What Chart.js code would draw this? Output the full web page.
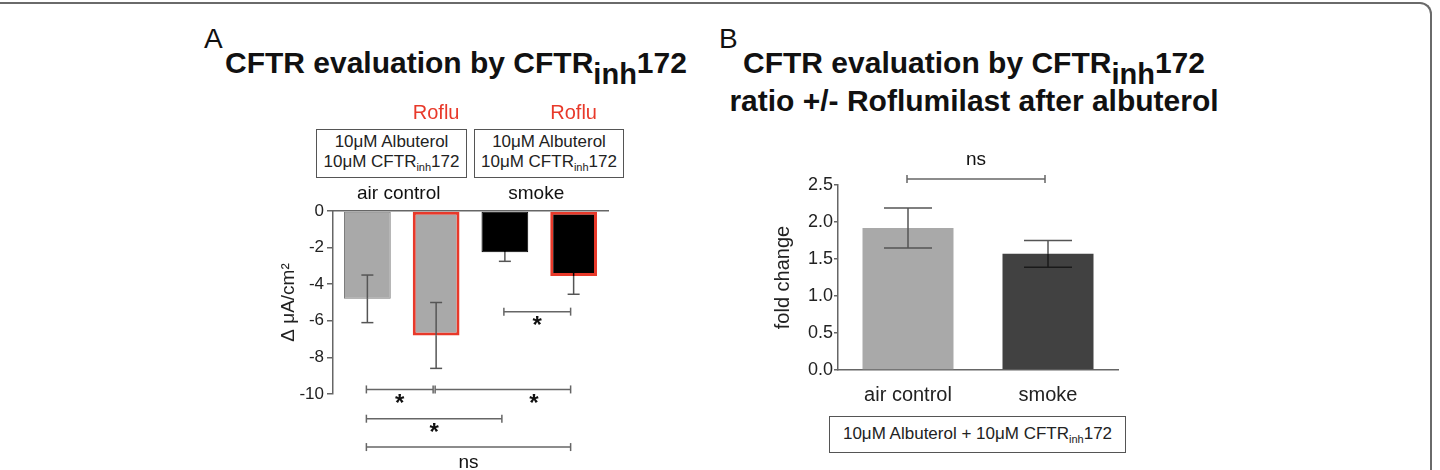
<!DOCTYPE html>
<html>
<head>
<meta charset="utf-8">
<script src="https://cdn.jsdelivr.net/npm/chart.js@4.4.1/dist/chart.umd.min.js"></script>
<style>
body { margin: 0; width: 1440px; height: 470px; overflow: hidden; background: #fff; position: relative;
       font-family: "Liberation Sans", Arial, sans-serif; color: #111; }
.abs { position: absolute; white-space: nowrap; }
.frame { position: absolute; left: -4px; top: 2px; width: 1436px; height: 490px; box-sizing: border-box;
         border-top: 2px solid #6a6a6a; border-right: 2px solid #6a6a6a; border-top-right-radius: 12px; }
.panel { font-size: 28px; line-height: 37px; }
.title { font-size: 30px; line-height: 37px; font-weight: bold; }
.sub { position: relative; top: 11px; font-size: 29px; }
.box { position: absolute; box-sizing: border-box; border: 1.5px solid #555; text-align: center;
       font-size: 17px; line-height: 20px; color: #222; white-space: nowrap; }
.bsub { font-size: 11px; position: relative; top: 4px; }
canvas { position: absolute; }
</style>
</head>
<body>
<div class="frame"></div>

<div class="abs panel" style="left:204px; top:20px;">A</div>
<div class="abs title" style="left:225px; top:44px;">CFTR evaluation by CFTR<span class="sub">inh</span>172</div>
<div class="box" style="left:316px; top:129px; width:151px; height:49px; padding-top:2px;">10μM Albuterol<br>10μM CFTR<span class="bsub">inh</span>172</div>
<div class="box" style="left:474px; top:129px; width:150px; height:49px; padding-top:2px;">10μM Albuterol<br>10μM CFTR<span class="bsub">inh</span>172</div>

<div class="abs panel" style="left:719px; top:20px;">B</div>
<div class="abs title" style="left:724px; top:44px; width:500px; text-align:center;">CFTR evaluation by CFTR<span class="sub">inh</span>172<br>ratio +/- Roflumilast after albuterol</div>
<div class="box" style="left:829px; top:416px; width:297px; height:37px; padding-top:7px;">10μM Albuterol + 10μM CFTR<span class="bsub">inh</span>172</div>

<canvas id="chartA" width="400" height="380" style="left:240px; top:90px;"></canvas>
<canvas id="chartB" width="400" height="280" style="left:740px; top:140px;"></canvas>

<script>
const FONT = '"Liberation Sans", Arial, sans-serif';
Chart.defaults.font.family = FONT;

// panel A: delta current after CFTRinh172
const groupsA = ["air control", "smoke"];
const conditionsA = ["air control", "air control + Roflu", "smoke", "smoke + Roflu"];
const meansA = [-4.8, -6.8, -2.25, -3.55];
const semA = [1.3, 1.8, 0.5, 1.0];
const rofluA = [false, true, false, true];
const compareA = [
    { a: 2, b: 3, label: "*" },
    { a: 0, b: 1, label: "*" },
    { a: 1, b: 3, label: "*" },
    { a: 0, b: 2, label: "*" },
    { a: 0, b: 3, label: "ns" },
];

// panel B: fold change ratio
const categoriesB = ["air control", "smoke"];
const meansB = [1.92, 1.57];
const semB = [0.27, 0.18];
const compareB = [{ a: 0, b: 1, label: "ns" }];

// bracket heights (axis units) and where the label sits along each bracket
const levelsA = [-5.5, -9.75, -9.75, -11.35, -12.9];
const labelAtA = [0.5, 0.5, 0.73, 0.5, 0.5];
const levelsB = [2.58];
const labelAtB = [0.5];

function line(ctx, x1, y1, x2, y2) {
    ctx.beginPath();
    ctx.moveTo(x1, y1);
    ctx.lineTo(x2, y2);
    ctx.stroke();
}

//whiskers: outer half in grey, inner half in a per-bar colour
const errorBars = {
    id: "errorBars",
    afterDatasetsDraw(chart, args, opts) {
        const ctx = chart.ctx;
        const y = chart.scales.y;
        const means = chart.data.datasets[0].data;
        ctx.save();
        ctx.lineWidth = opts.width;
        chart.getDatasetMeta(0).data.forEach((bar, i) => {
            const m = means[i];
            const dir = m < 0 ? -1 : 1;
            const ym = y.getPixelForValue(m);
            const yo = y.getPixelForValue(m + dir * opts.sem[i]);
            const yi = y.getPixelForValue(m - dir * opts.sem[i]);
            ctx.strokeStyle = opts.color;
            line(ctx, bar.x, ym, bar.x, yo);
            line(ctx, bar.x - opts.cap, yo, bar.x + opts.cap, yo);
            ctx.strokeStyle = opts.inner[i];
            line(ctx, bar.x, ym, bar.x, yi);
            line(ctx, bar.x - opts.cap, yi, bar.x + opts.cap, yi);
        });
        ctx.restore();
    },
};

//significance brackets plus group labels
const brackets = {
    id: "brackets",
    afterDatasetsDraw(chart, args, opts) {
        const ctx = chart.ctx;
        const y = chart.scales.y;
        const bars = chart.getDatasetMeta(0).data;
        ctx.save();
        ctx.strokeStyle = "#666";
        ctx.lineWidth = 1.5;
        ctx.fillStyle = "#111";
        ctx.textAlign = "center";
        opts.pairs.forEach((p, i) => {
            const x1 = bars[p.a].x - 1;
            const x2 = bars[p.b].x - 3;
            const yy = y.getPixelForValue(opts.levels[i]);
            line(ctx, x1, yy, x2, yy);
            line(ctx, x1, yy - 4, x1, yy + 4);
            line(ctx, x2, yy - 4, x2, yy + 4);
            const xm = x1 + (x2 - x1) * opts.labelAt[i];
            ctx.textBaseline = "middle";
            if (p.label === "*") {
                ctx.font = "bold 24px " + FONT;
                ctx.fillText("*", xm, yy + opts.starDy);
            } else {
                ctx.font = "19px " + FONT;
                ctx.fillText(p.label, xm, yy + opts.nsDy);
            }
        });
        if (opts.groups) {
            const top = chart.chartArea.top;
            ctx.font = "19px " + FONT;
            ctx.textBaseline = "alphabetic";
            opts.groups.forEach((g, gi) => {
                const xm = (bars[gi * 2].x + bars[gi * 2 + 1].x) / 2 - 3;
                ctx.fillText(g, xm, top - 12);
            });
            ctx.fillStyle = "#e8392a";
            ctx.font = "20px " + FONT;
            opts.roflu.forEach((r, i) => {
                if (r) ctx.fillText("Roflu", bars[i].x, top - 92);
            });
        }
        ctx.restore();
    },
};

new Chart(document.getElementById("chartA"), {
    type: "bar",
    plugins: [errorBars, brackets],
    data: {
        labels: conditionsA,
        datasets: [{
            data: meansA,
            backgroundColor: ["#a9a9a9", "#a9a9a9", "#000000", "#000000"],
            borderColor: ["#7d7d7d", "#e8392a", "#000000", "#e8392a"],
            borderWidth: [1, 3, 1, 3],
            borderSkipped: false,
            barPercentage: 0.68,
            categoryPercentage: 1,
        }],
    },
    options: {
        responsive: false,
        animation: false,
        layout: { padding: { left: 0, right: 32, top: 121, bottom: 76 } },
        plugins: {
            legend: { display: false },
            tooltip: { enabled: false },
            errorBars: { sem: semA, cap: 6, width: 1.5, color: "#555", inner: ["#555", "#555", "#000", "#000"] },
            brackets: { pairs: compareA, levels: levelsA, labelAt: labelAtA, starDy: 15, nsDy: 16, groups: groupsA, roflu: rofluA },
        },
        scales: {
            x: {
                position: "top",
                ticks: { display: false },
                grid: { display: false },
                border: { color: "#666", width: 1.5 },
                afterFit: (s) => { s.height = 0; },
            },
            y: {
                min: -10,
                max: 0,
                ticks: { stepSize: 2, padding: 3, color: "#222", font: { size: 17 } },
                grid: { drawOnChartArea: false, tickLength: 6, color: "#666", lineWidth: 1.5 },
                border: { color: "#666", width: 1.5 },
                title: { display: true, text: "Δ μA/cm²", color: "#222", font: { size: 19 }, padding: { top: 37, bottom: 0 } },
                afterFit: (s) => { s.width = 93; },
            },
        },
    },
});

new Chart(document.getElementById("chartB"), {
    type: "bar",
    plugins: [errorBars, brackets],
    data: {
        labels: categoriesB,
        datasets: [{
            data: meansB,
            backgroundColor: ["#a9a9a9", "#414141"],
            borderWidth: 0,
            barPercentage: 0.65,
            categoryPercentage: 1,
        }],
    },
    options: {
        responsive: false,
        animation: false,
        layout: { padding: { left: 0, right: 22, top: 45, bottom: 0 } },
        plugins: {
            legend: { display: false },
            tooltip: { enabled: false },
            errorBars: { sem: semB, cap: 24, width: 1.5, color: "#555", inner: ["#555", "#1a1a1a"] },
            brackets: { pairs: compareB, levels: levelsB, labelAt: labelAtB, starDy: 16, nsDy: -19 },
        },
        scales: {
            x: {
                ticks: { color: "#222", font: { size: 20 }, padding: 13 },
                grid: { display: false, drawTicks: false },
                border: { color: "#666", width: 1.5 },
                afterFit: (s) => { s.height = 50; },
            },
            y: {
                min: 0,
                max: 2.5,
                ticks: { stepSize: 0.5, padding: 1, color: "#222", font: { size: 18 },
                         callback: (v) => v.toFixed(1) },
                grid: { drawOnChartArea: false, tickLength: 4, color: "#666", lineWidth: 1.5 },
                border: { color: "#666", width: 1.5 },
                title: { display: true, text: "fold change", color: "#222", font: { size: 20 }, padding: { top: 31, bottom: 0 } },
                afterFit: (s) => { s.width = 98; },
            },
        },
    },
});
</script>
</body>
</html>
